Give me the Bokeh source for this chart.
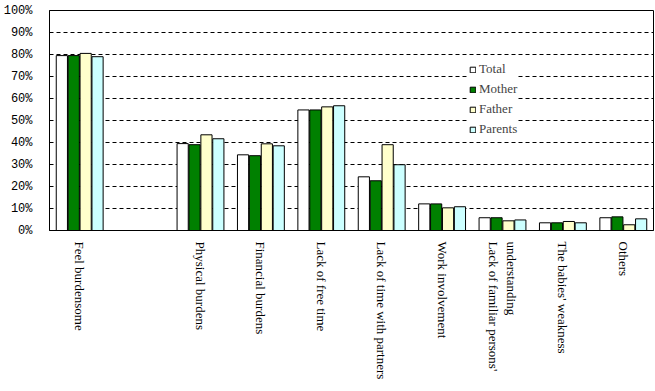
from bokeh.plotting import figure
from bokeh.models import (ColumnDataSource, Legend, LegendItem, FixedTicker,
                          NumeralTickFormatter, Range1d)
from bokeh.transform import dodge
from bokeh.embed import file_html
from bokeh.resources import INLINE

categories = ["Feel burdensome", " ", "Physical burdens", "Financial burdens", "Lack of free time",
              "Lack of time with partners", "Work involvement",
              "Lack of familiar persons'\nunderstanding", "The babies' weakness", "Others"]
series = ["Total", "Mother", "Father", "Parents"]
total = [79.5, 0, 39.5, 34.4, 54.8, 24.4, 12.1, 5.8, 3.5, 5.8]
mother = [79.5, 0, 39.0, 34.0, 54.8, 22.6, 12.1, 5.8, 3.5, 6.2]
father = [80.5, 0, 43.5, 39.4, 56.2, 39.0, 10.3, 4.4, 4.1, 2.6]
parents = [79.0, 0, 41.7, 38.5, 56.7, 29.9, 10.8, 4.8, 3.5, 5.3]
y_ticks = [0, 10, 20, 30, 40, 50, 60, 70, 80, 90, 100]

colors = ["#FFFFFF", "#008000", "#FFFFCC", "#CCFFFF"]

# category slot index (slot i occupies [i, i+1] on the x scale)
slot = [i + 0.5 for i in range(len(categories))]

src = ColumnDataSource(dict(cat=categories, slot=slot,
                            Total=[v / 100 for v in total],
                            Mother=[v / 100 for v in mother],
                            Father=[v / 100 for v in father],
                            Parents=[v / 100 for v in parents]))

p = figure(x_range=Range1d(0, len(categories)), y_range=Range1d(0, 1),
           width=655, height=391,
           min_border_left=43, min_border_right=2, min_border_top=10, min_border_bottom=161,
           output_backend="svg", toolbar_location=None)

step = 0.197
bw = 0.185
renderers = []
for i, (s, c) in enumerate(zip(series, colors)):
    r = p.vbar(x=dodge("slot", (i - 1.5) * step), top=s, width=bw, source=src,
               fill_color=c, line_color="black", line_width=1)
    renderers.append(r)

p.outline_line_color = "black"
p.outline_line_width = 1
p.xgrid.grid_line_color = None
p.ygrid.grid_line_color = "black"
p.ygrid.grid_line_dash = "4 3"
p.ygrid.grid_line_width = 1
p.ygrid.ticker = FixedTicker(ticks=[v / 100 for v in y_ticks[1:-1]])

p.yaxis.ticker = FixedTicker(ticks=[v / 100 for v in y_ticks])
p.yaxis.formatter = NumeralTickFormatter(format="0%")
p.yaxis.major_label_text_font = "Liberation Mono"
p.yaxis.major_label_text_font_size = "12px"
p.yaxis.major_label_text_color = "black"
p.yaxis.major_tick_line_color = None
p.yaxis.minor_tick_line_color = None
p.yaxis.axis_line_color = "black"
p.yaxis.major_label_standoff = 11

# category labels: one tick per text line, placed on the category slots
ticks = []
overrides = {}
for i, cat in enumerate(categories):
    lines = cat.strip().split("\n")
    if not lines[0]:
        continue
    n = len(lines)
    for j, line in enumerate(lines):
        t = round(slot[i] + (j - (n - 1) / 2) * 0.3, 3)
        ticks.append(t)
        overrides[t] = line

p.xaxis.ticker = FixedTicker(ticks=ticks)
p.xaxis.major_label_overrides = overrides
p.xaxis.major_label_orientation = "vertical"
p.xaxis.major_label_text_font = "Liberation Serif"
p.xaxis.major_label_text_font_size = "13px"
p.xaxis.major_label_text_color = "black"
p.xaxis.major_tick_line_color = None
p.xaxis.minor_tick_line_color = None
p.xaxis.axis_line_color = "black"
p.xaxis.major_label_standoff = 5

legend = Legend(items=[LegendItem(label=s, renderers=[r]) for s, r in zip(series, renderers)],
                location=(420, 93), glyph_width=7, glyph_height=7, label_height=14,
                spacing=4, padding=4, margin=0, label_standoff=3,
                label_text_font="Liberation Serif", label_text_font_size="13px",
                border_line_color=None, background_fill_color="white", background_fill_alpha=1)
p.add_layout(legend)

open("out.html", "w").write(file_html(p, INLINE))
